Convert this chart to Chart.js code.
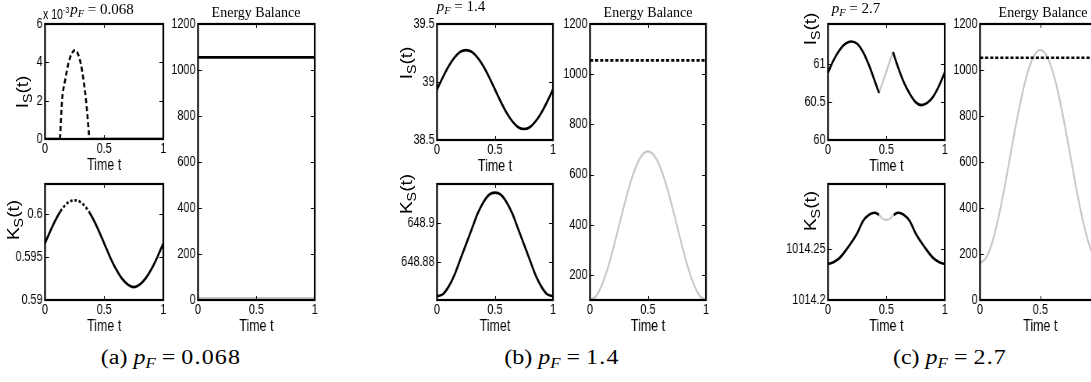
<!DOCTYPE html>
<html lang="en">
<head>
<meta charset="UTF-8">
<title>Energy Balance</title>
<script src="https://cdn.jsdelivr.net/npm/chart.js"></script>
<style>
  body { margin: 0; width: 1091px; height: 382px; overflow: hidden; background: #fff; position: relative; }
  canvas { position: absolute; transform-origin: 0 0; }
  .txt { position: absolute; transform: translate(-50%, -50%); white-space: nowrap; color: #000; line-height: 1; }
  .sans { font-family: 'Liberation Sans', Arial, sans-serif; }
  .serif { font-family: 'Liberation Serif', 'Times New Roman', serif; }
  .ylab { font-size: 19px; transform: translate(-50%, -50%) rotate(-90deg) scaleY(0.85); }
  .ylab sub { font-size: 75%; vertical-align: -0.3em; }
  .ttl { font-size: 14px; }
  .pf { font-size: 15px; }
  .cap { font-size: 20px; transform: translate(-50%, -50%) scaleX(1.2); }
  .cap .num { letter-spacing: 1px; }
  .serif sub { font-size: 70%; vertical-align: -0.3em; }
  .exp { position: absolute; font-size: 14px; white-space: nowrap; transform: scaleX(0.75); transform-origin: 0 0; line-height: 1; }
  .exp sup { font-size: 70%; vertical-align: 0.6em; }
</style>
</head>
<body>
<script>
// shared axes
const timeTicks = [0, 0.5, 1];
const tGrid = [0, 0.05, 0.1, 0.15, 0.2, 0.25, 0.3, 0.35, 0.4, 0.45, 0.5, 0.55, 0.6, 0.65, 0.7, 0.75, 0.8, 0.85, 0.9, 0.95, 1];
const tEnds = [0, 1];
const energyTicks = [0, 200, 400, 600, 800, 1000, 1200];

// (a) p_F = 0.068   (I in units of 10^-3)
const aI_yTicks = [0, 2, 4, 6];
const aI_offT1 = [0, 0.127];
const aI_offT2 = [0.375, 1];
const aI_off = [0, 0];
const aI_onT = [0.127, 0.144, 0.17, 0.198, 0.225, 0.254, 0.28, 0.302, 0.325, 0.347, 0.375];
const aI_on = [0, 2.0, 3.06, 3.94, 4.45, 4.63, 4.42, 3.94, 3.1, 2.0, 0];
const aK_t = [0, 0.05, 0.1, 0.13, 0.15, 0.2, 0.25, 0.3, 0.35, 0.375, 0.4, 0.45, 0.5, 0.55, 0.6, 0.65, 0.7, 0.75, 0.8, 0.85, 0.9, 0.95, 1];
const aK = [0.5966, 0.5982, 0.5996, 0.6003, 0.6007, 0.6014, 0.6016, 0.6014, 0.6007, 0.6002, 0.5996, 0.5982, 0.5966, 0.5950, 0.5936, 0.5925, 0.5918, 0.5915, 0.5918, 0.5925, 0.5936, 0.5950, 0.5966];
const aK_dashFrom = 0.13, aK_dashTo = 0.375;
const aK_yTicks = [0.59, 0.595, 0.6];
const aE_total = [1055, 1055];
const aE_gray = [8, 8];

// (b) p_F = 1.4
const bI = [38.935, 39.04, 39.135, 39.21, 39.26, 39.275, 39.26, 39.21, 39.135, 39.04, 38.935, 38.83, 38.735, 38.66, 38.61, 38.595, 38.61, 38.66, 38.735, 38.83, 38.935];
const bI_yTicks = [38.5, 39, 39.5];
const bK = [648.862, 648.863, 648.867, 648.873, 648.881, 648.889, 648.897, 648.905, 648.911, 648.915, 648.916, 648.915, 648.911, 648.905, 648.897, 648.889, 648.881, 648.873, 648.867, 648.863, 648.862];
const bK_yTicks = [648.88, 648.9];
const bE_total = [1055, 1055];
const bE_gray = [100, 114.5, 156.5, 222, 304.5, 396, 487.5, 570, 635.5, 677.5, 692, 677.5, 635.5, 570, 487.5, 396, 304.5, 222, 156.5, 114.5, 100];
const bE_yTicks = [200, 400, 600, 800, 1000, 1200];

// (c) p_F = 2.7
const cI_t1 = [0, 0.05, 0.1, 0.15, 0.2, 0.25, 0.3, 0.35, 0.4, 0.437];
const cI_1 = [60.89, 61.06, 61.19, 61.27, 61.30, 61.27, 61.16, 60.99, 60.78, 60.62];
const cI_tg = [0.437, 0.557];
const cI_g = [60.62, 61.16];
const cI_t2 = [0.557, 0.6, 0.65, 0.7, 0.75, 0.8, 0.85, 0.9, 0.95, 1];
const cI_2 = [61.16, 60.96, 60.76, 60.61, 60.50, 60.46, 60.49, 60.57, 60.71, 60.89];
const cI_yTicks = [60, 60.5, 61];
const cK_t1 = [0, 0.05, 0.1, 0.15, 0.2, 0.25, 0.3, 0.35, 0.4, 0.437];
const cK_1 = [1014.235, 1014.237, 1014.241, 1014.248, 1014.256, 1014.265, 1014.277, 1014.283, 1014.285, 1014.283];
const cK_tg = [0.437, 0.47, 0.5, 0.53, 0.563];
const cK_g = [1014.283, 1014.279, 1014.278, 1014.279, 1014.283];
const cK_t2 = [0.563, 0.6, 0.65, 0.7, 0.75, 0.8, 0.85, 0.9, 0.95, 1];
const cK_2 = [1014.283, 1014.285, 1014.283, 1014.277, 1014.265, 1014.256, 1014.248, 1014.241, 1014.237, 1014.235];
const cK_yTicks = [1014.2, 1014.25];
const cE_total = [1053, 1053];
const cE_gray = [160, 183, 249, 351, 480, 624, 767, 896, 998, 1064, 1087, 1064, 998, 896, 767, 624, 480, 351, 249, 183, 160];

const BLACK = '#000';
const GRAY = '#c6c6c6';
const sansFam = "'Liberation Sans', Arial, sans-serif";
const SQUEEZE = 0.78; // the matlab panels are horizontally narrow

function pts(ts, vs) {
    return ts.map((t, i) => ({ x: t, y: vs[i] }));
}

function series(ts, vs, extra) {
    return Object.assign({
        data: pts(ts, vs),
        borderColor: BLACK,
        borderWidth: 2.6,
        pointRadius: 0,
        fill: false,
        cubicInterpolationMode: 'monotone'
    }, extra || {});
}

// matlab style box with inward ticks
const boxPlugin = {
    id: 'boxPlugin',
    afterDraw(chart) {
        const { ctx, chartArea: a, scales } = chart;
        const x = scales.x, y = scales.y;
        ctx.save();
        ctx.strokeStyle = '#000';
        ctx.lineWidth = 1;
        ctx.beginPath();
        x.ticks.forEach(tk => {
            const px = Math.round(x.getPixelForValue(tk.value)) + 0.5;
            ctx.moveTo(px, a.bottom); ctx.lineTo(px, a.bottom - 4);
            ctx.moveTo(px, a.top); ctx.lineTo(px, a.top + 4);
        });
        y.ticks.forEach(tk => {
            const py = Math.round(y.getPixelForValue(tk.value)) + 0.5;
            ctx.moveTo(a.left, py); ctx.lineTo(a.left + 5, py);
            ctx.moveTo(a.right, py); ctx.lineTo(a.right - 5, py);
        });
        ctx.stroke();
        ctx.lineWidth = 2.2;
        ctx.strokeRect(a.left, a.top, a.right - a.left, a.bottom - a.top);
        ctx.restore();
    }
};

function panel(box, yMin, yMax, yTicks, datasets, xTitle) {
    const k = SQUEEZE;
    const cv = document.createElement('canvas');
    cv.width = Math.round((box.w + 58) / k);
    cv.height = box.h + 50;
    cv.style.left = (box.x - 44) + 'px';
    cv.style.top = (box.y - 12) + 'px';
    cv.style.transform = 'scaleX(' + k + ')';
    document.body.appendChild(cv);
    new Chart(cv, {
        type: 'line',
        data: { datasets: datasets },
        options: {
            responsive: false,
            animation: false,
            devicePixelRatio: 1,
            layout: { padding: { left: 2 / k, top: 12, right: 14 / k, bottom: 2 } },
            plugins: { legend: { display: false }, tooltip: { enabled: false } },
            scales: {
                x: {
                    type: 'linear', min: 0, max: 1,
                    afterBuildTicks: s => { s.ticks = timeTicks.map(v => ({ value: v })); },
                    afterFit: s => { s.height = 36; },
                    ticks: { color: '#000', padding: 2, font: { family: sansFam, size: 14 }, callback: v => String(v) },
                    grid: { display: false, drawTicks: false },
                    border: { display: false },
                    title: { display: true, text: xTitle || 'Time t', color: '#000', padding: 0, font: { family: sansFam, size: 16 } }
                },
                y: {
                    type: 'linear', min: yMin, max: yMax,
                    afterBuildTicks: s => { s.ticks = yTicks.map(v => ({ value: v })); },
                    afterFit: s => { s.width = 42 / k; },
                    ticks: { color: '#000', padding: 3, font: { family: sansFam, size: 14 }, callback: v => String(v) },
                    grid: { display: false, drawTicks: false },
                    border: { display: false }
                }
            }
        },
        plugins: [boxPlugin]
    });
}

function label(html, cls, cx, cy) {
    const d = document.createElement('div');
    d.className = 'txt ' + cls;
    d.innerHTML = html;
    d.style.left = cx + 'px';
    d.style.top = cy + 'px';
    document.body.appendChild(d);
}

// ---- (a) ----
panel({ x: 45, y: 24, w: 118, h: 115 }, 0, 6, aI_yTicks, [
    series(aI_offT1, aI_off),
    series(aI_offT2, aI_off),
    series(aI_onT, aI_on, { borderDash: [5, 3] })
]);
panel({ x: 45, y: 184, w: 118, h: 116 }, 0.59, 0.6035, aK_yTicks, [
    series(aK_t, aK, {
        segment: {
            borderDash: c => (c.p0.parsed.x >= aK_dashFrom - 1e-9 && c.p1.parsed.x <= aK_dashTo + 1e-9) ? [3, 2.5] : undefined
        }
    })
]);
panel({ x: 198, y: 24, w: 117, h: 276 }, 0, 1200, energyTicks, [
    series(tEnds, aE_total),
    series(tEnds, aE_gray, { borderColor: GRAY, borderWidth: 2.5 })
]);

// ---- (b) ----
panel({ x: 437, y: 24, w: 116, h: 116 }, 38.5, 39.5, bI_yTicks, [series(tGrid, bI)]);
panel({ x: 437, y: 184, w: 116, h: 116 }, 648.86, 648.9205, bK_yTicks, [series(tGrid, bK)], 'Timet');
panel({ x: 590, y: 24, w: 116, h: 276 }, 100, 1200, bE_yTicks, [
    series(tEnds, bE_total, { borderDash: [4, 2.5] }),
    series(tGrid, bE_gray, { borderColor: GRAY, borderWidth: 2.2 })
]);

// ---- (c) ----
panel({ x: 828, y: 24, w: 117, h: 116 }, 60, 61.53, cI_yTicks, [
    series(cI_t1, cI_1),
    series(cI_t2, cI_2),
    series(cI_tg, cI_g, { borderColor: GRAY, borderWidth: 2.2, cubicInterpolationMode: 'default', tension: 0 })
]);
panel({ x: 828, y: 184, w: 117, h: 116 }, 1014.2, 1014.313, cK_yTicks, [
    series(cK_t1, cK_1),
    series(cK_t2, cK_2),
    series(cK_tg, cK_g, { borderColor: GRAY, borderWidth: 2.2 })
]);
panel({ x: 980, y: 24, w: 121, h: 276 }, 0, 1200, energyTicks, [
    series(tEnds, cE_total, { borderDash: [4, 2.5] }),
    series(tGrid, cE_gray, { borderColor: GRAY, borderWidth: 2.2 })
]);

// ---- text ----
label('I<sub>S</sub>(t)', 'sans ylab', 24, 92);
label('K<sub>S</sub>(t)', 'sans ylab', 15, 220);
label('I<sub>S</sub>(t)', 'sans ylab', 408, 63);
label('K<sub>S</sub>(t)', 'sans ylab', 408, 194);
label('I<sub>S</sub>(t)', 'sans ylab', 812, 29);
label('K<sub>S</sub>(t)', 'sans ylab', 812, 211);

label('Energy Balance', 'serif ttl', 256, 13);
label('Energy Balance', 'serif ttl', 648, 13);
label('Energy Balance', 'serif ttl', 1043, 13);

label('<i>p<sub>F</sub></i> = 0.068', 'serif pf', 102, 11);
label('<i>p<sub>F</sub></i> = 1.4', 'serif pf', 461, 8);
label('<i>p<sub>F</sub></i> = 2.7', 'serif pf', 856, 10);

const ex = document.createElement('div');
ex.className = 'exp sans';
ex.innerHTML = 'x 10<sup>-3</sup>';
ex.style.left = '43px';
ex.style.top = '5px';
document.body.appendChild(ex);

label('(a) <i>p<sub>F</sub></i> = <span class="num">0.068</span>', 'serif cap', 171, 359);
label('(b) <i>p<sub>F</sub></i> = <span class="num">1.4</span>', 'serif cap', 562, 359);
label('(c) <i>p<sub>F</sub></i> = <span class="num">2.7</span>', 'serif cap', 950, 359);
</script>
</body>
</html>
